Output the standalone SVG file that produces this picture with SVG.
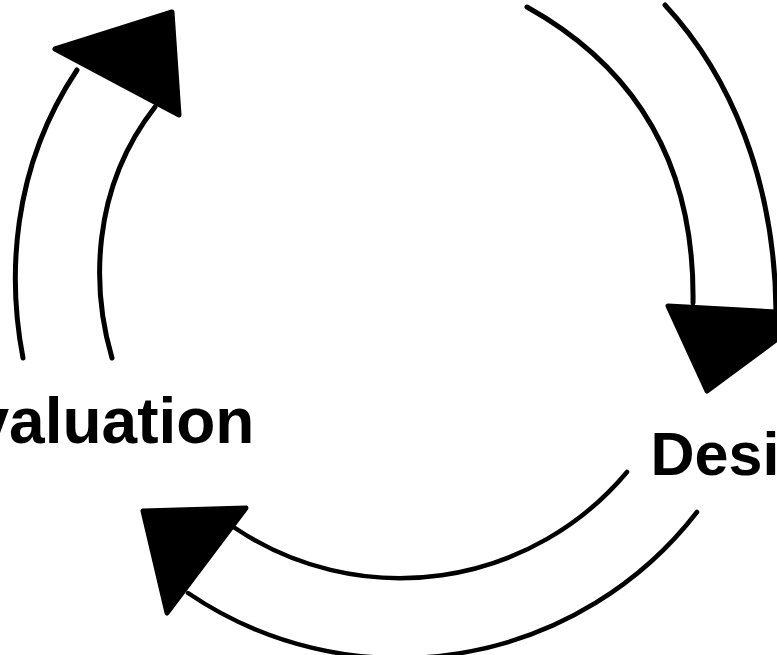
<svg xmlns="http://www.w3.org/2000/svg" width="777" height="655" viewBox="0 0 777 655">
  <style>
    .arc { fill: none; stroke: #000; stroke-width: 5; stroke-linecap: round; }
    .arc-thin { stroke-width: 4.5; }
    .head { fill: #000; stroke: #000; stroke-width: 5; stroke-linejoin: round; }
    .label { font-family: "Liberation Sans", Arial, Helvetica, sans-serif; font-weight: bold; fill: #000; }
  </style>
  <rect width="777" height="655" fill="#fff"/>
  <g id="connectors">
    <g id="arrow-evaluation-to-top">
      <path class="arc" d="M23,358 C8,280 10,170 77,70"/>
      <path class="arc" d="M112,358 C92,290 90,190 155,107"/>
      <polygon class="head" points="55,49 172,12 179,115"/>
    </g>
    <g id="arrow-top-to-design">
      <path class="arc" d="M527,7 C640,70 695,170 693,303"/>
      <path class="arc" d="M665,5 C730,75 775,180 776,312"/>
      <polygon class="head" points="668,306 811,314 707,391"/>
    </g>
    <g id="arrow-design-to-evaluation">
      <path class="arc arc-thin" d="M627,472 A296,296 0 0 1 235,528"/>
      <path class="arc arc-thin" d="M697,512 A376,376 0 0 1 188,593"/>
      <polygon class="head" points="143,511 246,508 167,613"/>
    </g>
  </g>
  <g id="node-evaluation">
    <text class="label" x="-26.5" y="443" font-size="64">valuation</text>
  </g>
  <g id="node-design">
    <text class="label" x="650.5" y="475" font-size="61">Desi</text>
  </g>
</svg>
